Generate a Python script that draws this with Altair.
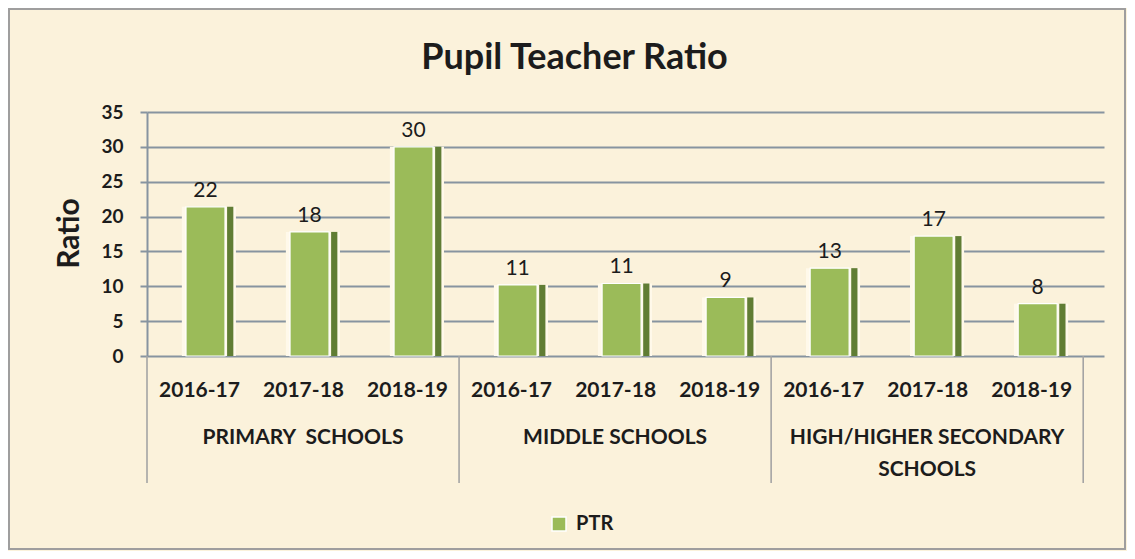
import altair as alt
import pandas as pd

# ---- data ----
groups = ["PRIMARY  SCHOOLS", "MIDDLE SCHOOLS", "HIGH/HIGHER SECONDARY\nSCHOOLS"]
years = ["2016-17", "2017-18", "2018-19"]
ptr_values = [21.4, 17.8, 30.0, 10.2, 10.4, 8.4, 12.6, 17.2, 7.5]
ptr_labels = ["22", "18", "30", "11", "11", "9", "13", "17", "8"]
series_name = "PTR"
y_ticks = [0, 5, 10, 15, 20, 25, 30, 35]

# ---- tables built from the arrays ----
rows = []
for gi, g in enumerate(groups):
    for yi, yr in enumerate(years):
        i = gi * len(years) + yi
        rows.append({"pos": i, "group": g, "year": yr, "value": ptr_values[i],
                     "label": ptr_labels[i], "series": series_name})
df = pd.DataFrame(rows)
n = len(df)
k = len(years)
bounds = pd.DataFrame({"b": [gi * k for gi in range(len(groups) + 1)]})
grp_df = pd.DataFrame({
    "center": [gi * k + k / 2 for gi in range(len(groups))],
    "group": [g.replace("  ", "\u00a0 ") for g in groups],
})
year_expr = "[" + ",".join('"%s"' % y for y in years) + "][round(datum.value - 0.5) % " + str(k) + "]"

FONT = "Lato"
TXT = "#1c1c1c"
GRID = "#8794A0"
BG = "#FBF2DB"
W, H = 957, 244
xscale = alt.Scale(domain=[0, n + 0.2], nice=False, zero=False)
yscale = alt.Scale(domain=[0, 35], nice=False, zero=True)

x_axis = alt.Axis(values=[i + 0.5 for i in range(n)], labelExpr=year_expr,
                  title=None, domain=False, ticks=False, tickSize=0, grid=False,
                  labelFont=FONT, labelFontSize=21, labelFontWeight="bold",
                  labelColor=TXT, labelPadding=23,
                  labelLimit=0, labelOverlap=False, labelBound=False,
                  labelFlush=False)
y_axis = alt.Axis(values=y_ticks, tickCount=len(y_ticks), title="Ratio",
                  titleFont=FONT, titleFontSize=30,
                  titleFontWeight="bold", titleColor=TXT, titleX=-78, titleY=121,
                  titleAngle=270, titleAlign="center", titleBaseline="middle",
                  labelFont=FONT, labelFontSize=19, labelFontWeight="bold",
                  labelColor=TXT, labelPadding=17, labelOverlap=False,
                  tickSize=7, tickColor=GRID,
                  tickWidth=2, domainColor=GRID, domainWidth=2,
                  grid=True, gridColor=GRID, gridWidth=2)

base = alt.Chart(df)


def xy(xfield):
    return dict(
        x=alt.X(xfield, scale=xscale, axis=x_axis),
        y=alt.Y("value:Q", scale=yscale, axis=y_axis),
    )


halo = base.transform_calculate(
    x1="datum.pos + 0.335", x2="datum.pos + 0.855"
).mark_rect(color="#FFF9EA").encode(**xy("x1:Q"), x2="x2:Q", y2=alt.datum(0))

front = base.transform_calculate(
    x1="datum.pos + 0.375", x2="datum.pos + 0.75"
).mark_rect(stroke="#FFFFFF", strokeWidth=1.2).encode(
    **xy("x1:Q"), x2="x2:Q", y2=alt.datum(0),
    color=alt.Color("series:N", scale=alt.Scale(range=["#9BBB59"]),
                    legend=alt.Legend(orient="none", legendX=402, legendY=402,
                                      title=None, symbolType="square",
                                      symbolSize=196, symbolStrokeColor="#FFFFFF",
                                      symbolStrokeWidth=1.5, labelFont=FONT,
                                      labelFontSize=20, labelFontWeight="bold",
                                      labelColor=TXT, labelOffset=7)),
)

side = base.transform_calculate(
    x1="datum.pos + 0.77", x2="datum.pos + 0.83"
).mark_rect(color="#607D34").encode(**xy("x1:Q"), x2="x2:Q", y2=alt.datum(0))

labels = base.transform_calculate(
    xc="datum.pos + 0.5625"
).mark_text(font=FONT, fontSize=21, color=TXT, baseline="bottom", dy=-6).encode(
    **xy("xc:Q"), text="label:N",
)

group_text = alt.Chart(grp_df).transform_calculate(
    lines="split(datum.group, '\\n')"
).mark_text(font=FONT, fontSize=21, fontWeight="bold", color=TXT,
            baseline="top", align="center", lineHeight=32).encode(
    x=alt.X("center:Q", scale=xscale, axis=x_axis),
    y=alt.value(H + 71),
    text="lines:N",
)

dividers = alt.Chart(bounds).mark_rule(color="#A4A4A4", strokeWidth=1.6).encode(
    x=alt.X("b:Q", scale=xscale, axis=x_axis),
    y=alt.value(H),
    y2=alt.value(H + 127),
)

frame = alt.Chart(bounds).mark_rect(fill=None, stroke="#9E9E9E", strokeWidth=1.5).encode(
    x=alt.value(-138), x2=alt.value(W + 21),
    y=alt.value(-103), y2=alt.value(H + 193),
)

chart = alt.layer(frame, halo, front, side, labels, group_text, dividers).properties(
    width=W, height=H,
    autosize=alt.AutoSizeParams(type="none"),
    padding={"left": 139, "top": 104, "right": 23, "bottom": 195},
    title=alt.TitleParams("Pupil Teacher Ratio", font=FONT, fontSize=36,
                          fontWeight="bold", color=TXT, anchor="middle",
                          dx=-51, offset=-69),
).configure(background=BG).configure_view(stroke=None)

chart.save("out.html", embed_options={"renderer": "svg", "actions": False})
